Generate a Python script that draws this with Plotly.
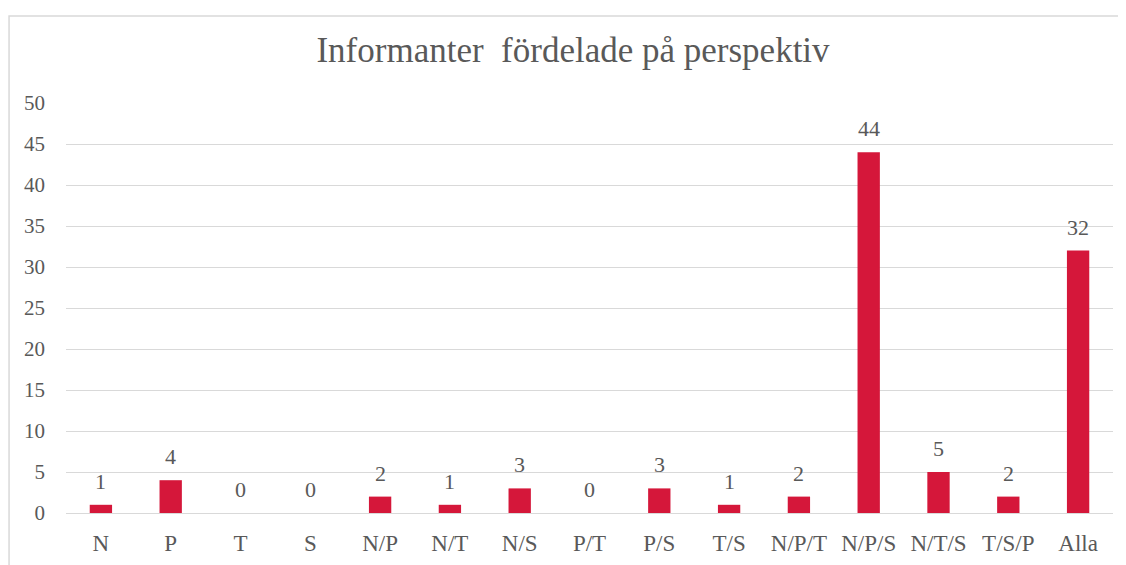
import plotly.graph_objects as go

# Data
categories = ["N", "P", "T", "S", "N/P", "N/T", "N/S", "P/T", "P/S", "T/S",
              "N/P/T", "N/P/S", "N/T/S", "T/S/P", "Alla"]
counts = [1, 4, 0, 0, 2, 1, 3, 0, 3, 1, 2, 44, 5, 2, 32]
y_ticks = [0, 5, 10, 15, 20, 25, 30, 35, 40, 45, 50]

font_family = "Liberation Serif, Times New Roman, serif"
text_color = "#595959"
bar_color = "#D5173A"

fig = go.Figure()
fig.add_trace(go.Bar(
    x=categories,
    y=counts,
    marker=dict(color=bar_color, line=dict(width=0)),
    width=0.32,
    hoverinfo="x+y",
))

# Value labels above bars
for cat, val in zip(categories, counts):
    fig.add_annotation(
        x=cat, y=val, text=str(val), showarrow=False,
        yanchor="bottom", yshift=9,
        font=dict(family=font_family, size=22, color=text_color),
    )

# page body has an 8px margin, so the figure is sized to fit the window
fig.update_layout(
    width=1118,
    height=557,
    margin=dict(l=58, r=13, t=95, b=52),
    paper_bgcolor="white",
    plot_bgcolor="white",
    showlegend=False,
    title=dict(
        text="Informanter  fördelade på perspektiv",
        x=0.5054, xanchor="center",
        y=0.9246, yanchor="middle",
        font=dict(family=font_family, size=35, color=text_color),
    ),
    xaxis=dict(
        type="category",
        showgrid=False,
        showline=False,
        ticks="",
        automargin=False,
        ticklabelstandoff=14,
        tickfont=dict(family=font_family, size=23, color=text_color),
    ),
    yaxis=dict(
        range=[0, 50],
        tickvals=y_ticks,
        showgrid=True,
        gridcolor="#D9D9D9",
        gridwidth=1,
        zeroline=True,
        zerolinecolor="#D9D9D9",
        zerolinewidth=1,
        showline=False,
        ticks="",
        automargin=False,
        ticklabelstandoff=20,
        tickfont=dict(family=font_family, size=21, color=text_color),
    ),
    shapes=[dict(
        type="rect", xref="paper", yref="paper",
        x0=-0.0544, x1=1.0067, y0=-0.14, y1=1.2122,
        line=dict(color="#D9D9D9", width=1.5),
        fillcolor="rgba(0,0,0,0)",
        layer="below",
    )],
)

fig.write_html("out.html")
